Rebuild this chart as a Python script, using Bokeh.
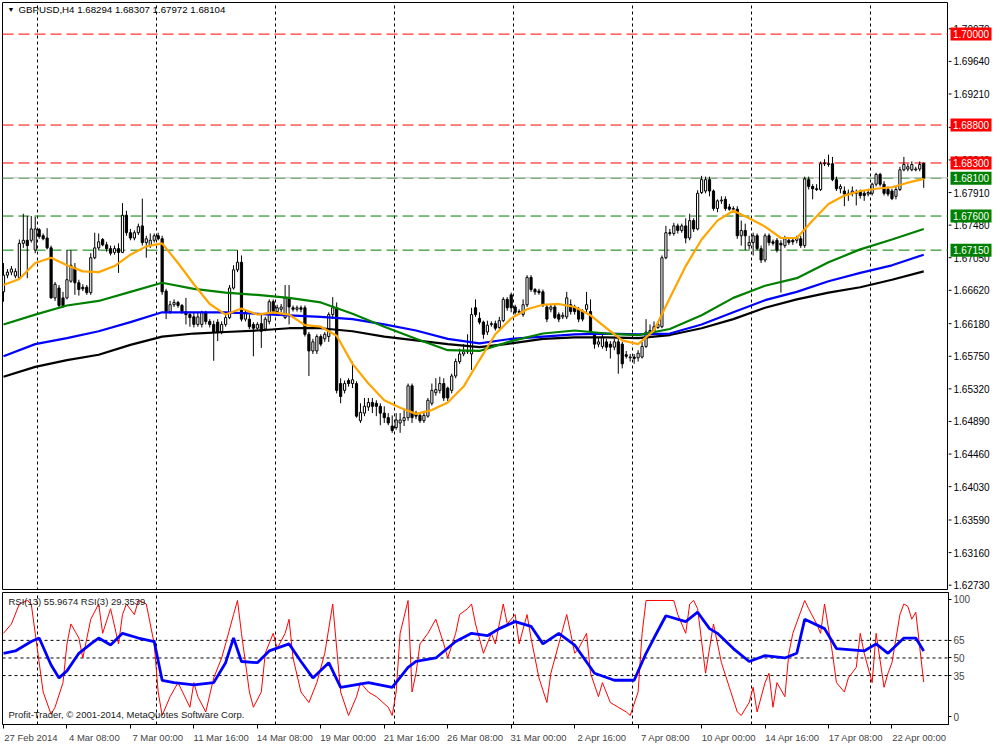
from bokeh.plotting import figure
from bokeh.layouts import column, row
from bokeh.models import FixedTicker, Span, Label, Range1d, ColumnDataSource
from bokeh.core.properties import value
from bokeh.embed import file_html
from bokeh.resources import INLINE

FONT = "Liberation Sans"

title_text = "GBPUSD,H4  1.68294 1.68307 1.67972 1.68104"
rsi_text = "RSI(13) 55.9674  RSI(3) 29.3539"
copyright_text = "Profit-Trader, \u00a9 2001-2014, MetaQuotes Software Corp."

time_labels = ["27 Feb 2014", "4 Mar 08:00", "7 Mar 00:00", "11 Mar 16:00", "14 Mar 08:00",
               "19 Mar 00:00", "21 Mar 16:00", "26 Mar 08:00", "31 Mar 00:00", "2 Apr 16:00",
               "7 Apr 08:00", "10 Apr 00:00", "14 Apr 16:00", "17 Apr 08:00", "22 Apr 00:00"]
time_label_bars = [0, 16, 32, 48, 64, 80, 96, 112, 128, 144, 160, 176, 192, 208, 224]
day_grid_bars = [8.5, 38.5, 68.5, 98.5, 128.5, 158.5, 188.5, 218.5]

opens = [1.6660,1.6682,1.6686,1.6681,1.6679,1.6724,1.6728,1.6728,1.6715,1.6742,
 1.6734,1.6731,1.6718,1.6652,1.6665,1.6652,1.6652,1.6674,1.6692,1.6672,
 1.6666,1.6666,1.6659,1.6705,1.6718,1.6729,1.6722,1.6717,1.6712,1.6717,
 1.6712,1.6761,1.6738,1.6731,1.6738,1.6747,1.6725,1.6721,1.6728,1.6734,
 1.6730,1.6661,1.6634,1.6643,1.6646,1.6642,1.6634,1.6630,1.6627,1.6617,
 1.6617,1.6633,1.6621,1.6617,1.6620,1.6607,1.6617,1.6626,1.6665,1.6689,
 1.6699,1.6624,1.6624,1.6617,1.6612,1.6618,1.6611,1.6621,1.6647,1.6634,
 1.6637,1.6626,1.6652,1.6639,1.6637,1.6639,1.6639,1.6604,1.6582,1.6582,
 1.6601,1.6598,1.6601,1.6630,1.6639,1.6539,1.6530,1.6543,1.6539,1.6539,
 1.6490,1.6500,1.6508,1.6514,1.6513,1.6509,1.6500,1.6494,1.6483,1.6481,
 1.6487,1.6490,1.6494,1.6536,1.6500,1.6497,1.6490,1.6496,1.6513,1.6527,
 1.6530,1.6539,1.6533,1.6530,1.6549,1.6568,1.6578,1.6581,1.6578,1.6639,
 1.6625,1.6620,1.6607,1.6617,1.6618,1.6613,1.6622,1.6650,1.6656,1.6640,
 1.6634,1.6630,1.6643,1.6679,1.6663,1.6661,1.6660,1.6640,1.6637,1.6640,
 1.6630,1.6627,1.6627,1.6643,1.6640,1.6637,1.6634,1.6637,1.6634,1.6604,
 1.6591,1.6588,1.6594,1.6591,1.6587,1.6594,1.6591,1.6577,1.6573,1.6574,
 1.6573,1.6574,1.6588,1.6607,1.6608,1.6613,1.6614,1.6705,1.6738,1.6737,
 1.6747,1.6741,1.6747,1.6731,1.6754,1.6743,1.6791,1.6793,1.6808,1.6793,
 1.6770,1.6780,1.6782,1.6772,1.6769,1.6769,1.6734,1.6741,1.6721,1.6725,
 1.6734,1.6717,1.6702,1.6734,1.6726,1.6728,1.6724,1.6721,1.6728,1.6728,
 1.6728,1.6730,1.6721,1.6808,1.6799,1.6796,1.6795,1.6829,1.6828,1.6829,
 1.6808,1.6796,1.6793,1.6789,1.6790,1.6790,1.6793,1.6790,1.6789,1.6790,
 1.6802,1.6815,1.6802,1.6795,1.6793,1.6786,1.6795,1.6821,1.6822,1.6821,
 1.6821,1.6822,1.68294]
highs = [1.6698,1.6690,1.6694,1.6691,1.6729,1.6763,1.6760,1.6760,1.6759,1.6744,
 1.6737,1.6744,1.6721,1.6673,1.6669,1.6660,1.6715,1.6715,1.6698,1.6676,
 1.6670,1.6669,1.6711,1.6738,1.6737,1.6731,1.6726,1.6721,1.6721,1.6724,
 1.6777,1.6767,1.6743,1.6741,1.6750,1.6783,1.6734,1.6737,1.6737,1.6738,
 1.6734,1.6664,1.6648,1.6650,1.6648,1.6644,1.6652,1.6634,1.6633,1.6633,
 1.6635,1.6635,1.6624,1.6622,1.6624,1.6621,1.6630,1.6669,1.6695,1.6715,
 1.6708,1.6637,1.6630,1.6620,1.6620,1.6630,1.6627,1.6650,1.6650,1.6643,
 1.6644,1.6669,1.6669,1.6642,1.6642,1.6642,1.6642,1.6607,1.6598,1.6604,
 1.6604,1.6607,1.6633,1.6653,1.6646,1.6546,1.6543,1.6546,1.6568,1.6542,
 1.6513,1.6520,1.6520,1.6520,1.6517,1.6513,1.6509,1.6500,1.6497,1.6500,
 1.6500,1.6504,1.6539,1.6539,1.6503,1.6500,1.6503,1.6520,1.6539,1.6546,
 1.6548,1.6546,1.6535,1.6552,1.6572,1.6585,1.6591,1.6604,1.6639,1.6650,
 1.6633,1.6622,1.6622,1.6621,1.6622,1.6627,1.6653,1.6653,1.6659,1.6643,
 1.6637,1.6650,1.6682,1.6682,1.6665,1.6664,1.6663,1.6643,1.6643,1.6643,
 1.6633,1.6633,1.6660,1.6650,1.6643,1.6640,1.6637,1.6660,1.6650,1.6607,
 1.6600,1.6604,1.6598,1.6595,1.6598,1.6598,1.6594,1.6582,1.6578,1.6578,
 1.6583,1.6594,1.6624,1.6617,1.6621,1.6621,1.6708,1.6747,1.6743,1.6751,
 1.6750,1.6750,1.6757,1.6763,1.6757,1.6794,1.6813,1.6812,1.6812,1.6795,
 1.6782,1.6786,1.6786,1.6776,1.6773,1.6773,1.6754,1.6750,1.6734,1.6738,
 1.6737,1.6721,1.6737,1.6737,1.6729,1.6731,1.6728,1.6734,1.6730,1.6731,
 1.6734,1.6734,1.6812,1.6812,1.6802,1.6802,1.6832,1.6835,1.6841,1.6838,
 1.6812,1.6802,1.6799,1.6795,1.6799,1.6795,1.6795,1.6794,1.6796,1.6804,
 1.6817,1.6817,1.6806,1.6799,1.6796,1.6799,1.6825,1.6838,1.6829,1.6832,
 1.6825,1.6832,1.68307]
lows = [1.6647,1.6678,1.6682,1.6678,1.6677,1.6718,1.6678,1.6725,1.6711,1.6730,
 1.6728,1.6716,1.6651,1.6648,1.6640,1.6639,1.6650,1.6672,1.6656,1.6655,
 1.6661,1.6656,1.6656,1.6703,1.6715,1.6720,1.6713,1.6708,1.6709,1.6685,
 1.6711,1.6734,1.6728,1.6728,1.6735,1.6721,1.6705,1.6718,1.6725,1.6728,
 1.6656,1.6624,1.6631,1.6640,1.6639,1.6631,1.6617,1.6614,1.6613,1.6614,
 1.6613,1.6617,1.6613,1.6569,1.6595,1.6604,1.6614,1.6624,1.6663,1.6686,
 1.6621,1.6621,1.6611,1.6575,1.6609,1.6586,1.6608,1.6617,1.6630,1.6631,
 1.6633,1.6624,1.6617,1.6634,1.6634,1.6633,1.6601,1.6549,1.6578,1.6578,
 1.6588,1.6594,1.6594,1.6624,1.6526,1.6513,1.6526,1.6535,1.6533,1.6494,
 1.6487,1.6496,1.6503,1.6500,1.6496,1.6484,1.6487,1.6484,1.6474,1.6478,
 1.6474,1.6483,1.6490,1.6487,1.6492,1.6487,1.6487,1.6494,1.6510,1.6523,
 1.6526,1.6516,1.6516,1.6526,1.6546,1.6565,1.6575,1.6578,1.6557,1.6627,
 1.6617,1.6598,1.6603,1.6614,1.6609,1.6611,1.6620,1.6635,1.6633,1.6630,
 1.6630,1.6627,1.6640,1.6660,1.6656,1.6656,1.6640,1.6620,1.6633,1.6624,
 1.6620,1.6624,1.6624,1.6630,1.6630,1.6620,1.6621,1.6633,1.6604,1.6585,
 1.6587,1.6585,1.6582,1.6572,1.6583,1.6552,1.6559,1.6572,1.6568,1.6565,
 1.6568,1.6572,1.6586,1.6604,1.6604,1.6611,1.6612,1.6703,1.6734,1.6734,
 1.6737,1.6738,1.6724,1.6728,1.6739,1.6741,1.6789,1.6790,1.6786,1.6767,
 1.6765,1.6776,1.6767,1.6767,1.6765,1.6730,1.6721,1.6715,1.6716,1.6708,
 1.6715,1.6698,1.6699,1.6721,1.6721,1.6712,1.6659,1.6718,1.6722,1.6722,
 1.6724,1.6718,1.6718,1.6795,1.6782,1.6793,1.6793,1.6826,1.6825,1.6806,
 1.6793,1.6790,1.6773,1.6780,1.6786,1.6774,1.6783,1.6780,1.6786,1.6787,
 1.6799,1.6799,1.6787,1.6786,1.6781,1.6782,1.6793,1.6819,1.6819,1.6819,
 1.6819,1.6819,1.67972]
closes = [1.6682,1.6686,1.6690,1.6687,1.6724,1.6728,1.6721,1.6743,1.6743,1.6733,
 1.6730,1.6718,1.6652,1.6670,1.6642,1.6642,1.6676,1.6695,1.6672,1.6663,
 1.6664,1.6659,1.6705,1.6718,1.6726,1.6722,1.6717,1.6711,1.6717,1.6712,
 1.6761,1.6738,1.6731,1.6738,1.6746,1.6725,1.6730,1.6728,1.6734,1.6730,
 1.6660,1.6634,1.6643,1.6646,1.6642,1.6634,1.6630,1.6626,1.6617,1.6627,
 1.6633,1.6621,1.6617,1.6607,1.6607,1.6617,1.6626,1.6665,1.6689,1.6699,
 1.6624,1.6633,1.6614,1.6612,1.6617,1.6608,1.6624,1.6647,1.6634,1.6639,
 1.6640,1.6652,1.6640,1.6637,1.6639,1.6637,1.6604,1.6582,1.6594,1.6601,
 1.6591,1.6604,1.6630,1.6639,1.6530,1.6522,1.6539,1.6539,1.6544,1.6496,
 1.6501,1.6509,1.6514,1.6509,1.6509,1.6500,1.6494,1.6487,1.6477,1.6491,
 1.6491,1.6494,1.6536,1.6494,1.6496,1.6490,1.6497,1.6517,1.6530,1.6531,
 1.6539,1.6520,1.6520,1.6549,1.6568,1.6578,1.6581,1.6582,1.6630,1.6630,
 1.6620,1.6604,1.6616,1.6618,1.6612,1.6622,1.6650,1.6639,1.6639,1.6633,
 1.6633,1.6643,1.6679,1.6663,1.6660,1.6659,1.6643,1.6624,1.6640,1.6626,
 1.6624,1.6629,1.6652,1.6634,1.6634,1.6624,1.6624,1.6643,1.6608,1.6591,
 1.6594,1.6600,1.6587,1.6587,1.6594,1.6578,1.6565,1.6575,1.6574,1.6572,
 1.6579,1.6588,1.6607,1.6609,1.6614,1.6617,1.6705,1.6738,1.6737,1.6747,
 1.6741,1.6747,1.6731,1.6754,1.6743,1.6790,1.6808,1.6808,1.6793,1.6770,
 1.6780,1.6781,1.6770,1.6769,1.6770,1.6734,1.6741,1.6734,1.6725,1.6734,
 1.6717,1.6702,1.6734,1.6725,1.6724,1.6715,1.6722,1.6730,1.6725,1.6726,
 1.6731,1.6721,1.6809,1.6799,1.6796,1.6795,1.6829,1.6830,1.6829,1.6808,
 1.6796,1.6799,1.6789,1.6790,1.6793,1.6791,1.6787,1.6787,1.6791,1.6802,
 1.6815,1.6802,1.6790,1.6789,1.6783,1.6795,1.6821,1.6828,1.6825,1.6828,
 1.6822,1.6828,1.68104]

ma_fast = [1.6669,1.6677,1.6698,1.6705,1.6695,1.6687,1.6686,1.6694,1.6709,1.6720,
 1.6724,1.6698,1.6670,1.6644,1.6630,1.6638,1.6630,1.6633,1.6630,1.6616,
 1.6614,1.6602,1.6565,1.6539,1.6517,1.6507,1.6499,1.6504,1.6514,1.6535,
 1.6570,1.6604,1.6625,1.6637,1.6643,1.6644,1.6640,1.6629,1.6612,1.6596,
 1.6591,1.6609,1.6652,1.6694,1.6729,1.6754,1.6767,1.6757,1.6746,1.6731,
 1.6731,1.6754,1.6776,1.6787,1.6793,1.6796,1.6798,1.6804,1.6809]
ma_green = [1.6617,1.6630,1.6642,1.6648,1.6660,1.6672,1.6664,1.6659,1.6656,1.6652,
 1.6646,1.6631,1.6614,1.6598,1.6583,1.6582,1.6595,1.6605,1.6609,1.6605,
 1.6603,1.6611,1.6629,1.6652,1.6668,1.6678,1.6699,1.6716,1.6729,1.6743]
ma_blue = [1.6575,1.6591,1.6599,1.6608,1.6620,1.6633,1.6633,1.6633,1.6631,1.6629,
 1.6627,1.6624,1.6617,1.6609,1.6598,1.6592,1.6598,1.6601,1.6604,1.6605,
 1.6604,1.6605,1.6617,1.6633,1.6649,1.6660,1.6674,1.6685,1.6695,1.6709]
ma_black = [1.6548,1.6561,1.6570,1.6577,1.6590,1.6601,1.6605,1.6607,1.6609,1.6612,
 1.6612,1.6608,1.6601,1.6596,1.6591,1.6587,1.6592,1.6598,1.6600,1.6600,
 1.6599,1.6603,1.6612,1.6624,1.6639,1.6650,1.6659,1.6666,1.6676,1.6687]
ma_fast_bars = list(range(0, 233, 4))
ma_slow_bars = list(range(0, 233, 8))

rsi13_bars = [0,3,7,9,12,14,16,19,22,24,27,30,34,38,40,43,48,53,56,58,
 60,64,67,72,75,78,82,85,92,98,102,104,109,114,118,122,125,129,133,136,
 140,144,149,154,159,162,164,167,172,175,178,180,184,188,192,197,200,202,207,210,
 217,220,223,227,230,232]
rsi13 = [54,56,64,67,44,33,39,54,62,67,61,71,67,64,31,29,27,29,46,67,
 47,46,56,62,47,33,46,25,29,25,42,47,50,64,71,69,75,81,77,62,
 71,61,37,31,31,54,67,86,81,89,75,71,58,47,52,50,54,83,75,58,
 56,62,54,67,67,55.9674]
rsi3_bars = [0,2,4,6,7,8,10,12,13,15,16,17,19,20,22,24,25,27,29,30,
 31,33,34,36,38,39,40,42,44,47,48,49,51,53,55,56,58,59,60,62,
 63,65,66,68,69,71,72,73,75,77,79,81,83,85,87,89,90,92,94,97,
 98,99,100,102,103,104,105,107,109,111,112,114,115,117,118,119,121,123,124,126,
 127,129,130,132,133,135,137,138,140,142,143,144,145,147,148,150,151,153,155,157,
 158,160,161,162,164,167,169,170,172,173,174,175,177,179,181,183,185,186,188,189,
 190,192,193,194,195,197,198,199,202,203,205,206,207,209,210,212,213,215,216,217,
 219,220,222,223,224,226,227,228,229,230,232]
rsi3 = [71,79,96,99,96,71,21,2,8,29,62,79,67,50,83,96,71,92,62,87,
 96,87,99,96,62,21,1,17,29,8,29,17,4,33,50,62,87,99,71,21,
 8,21,54,71,58,71,83,50,21,12,29,54,96,21,1,17,29,21,17,8,
 1,21,71,99,21,37,62,71,83,62,50,71,87,92,96,79,54,71,62,96,
 79,87,62,87,67,33,12,37,62,87,71,54,58,71,37,17,29,12,8,4,
 1,21,71,99,99,99,99,87,71,96,99,92,37,79,46,25,4,1,12,25,
 4,29,37,8,29,17,54,71,99,92,79,71,96,54,29,21,33,42,71,54,
 29,71,25,37,46,87,96,94,83,89,29.3539]

red_levels = [1.70000, 1.68800, 1.68300]
green_levels = [1.68100, 1.67600, 1.67150]
bid_price = 1.68104
price_ticks = [1.62730, 1.63160, 1.63590, 1.64030, 1.64460, 1.64890, 1.65320, 1.65750, 1.66180,
               1.66620, 1.67050, 1.67480, 1.67910, 1.68340, 1.68770, 1.69210, 1.69640, 1.70070]
rsi_levels = [35, 50, 65]
rsi_ticks = [0, 35, 50, 65, 100]

FRAME_W = 946
MAIN_H = 588
RSI_H = 132
RIGHT = 44
LABEL_SHIFT = 6.9   # time labels start at their tick: centre them this many bars to the right

xr = Range1d(-0.25, 238.25)
yr = Range1d(1.6266, 1.70417)


def base_style(p):
    p.outline_line_color = "black"
    p.outline_line_width = 1
    p.background_fill_color = "white"
    p.border_fill_color = "white"
    p.ygrid.visible = False
    p.xgrid.ticker = FixedTicker(ticks=day_grid_bars)
    p.xgrid.grid_line_color = "black"
    p.xgrid.grid_line_dash = "3 3"
    p.xgrid.grid_line_width = 1


# ---------------- main price panel ----------------
p = figure(frame_width=FRAME_W, frame_height=MAIN_H, x_range=xr, y_range=yr,
           y_axis_location=None, x_axis_location=None, output_backend="svg",
           toolbar_location=None, min_border_left=2, min_border_right=0,
           min_border_top=2, min_border_bottom=0)
base_style(p)

for lvl in red_levels:
    p.add_layout(Span(location=lvl, dimension="width", line_color="#FF0000", line_dash="11 5",
                      line_width=1, level="underlay"))
for lvl in green_levels:
    p.add_layout(Span(location=lvl, dimension="width", line_color="#008000", line_dash="11 5",
                      line_width=1, level="underlay"))
p.add_layout(Span(location=bid_price, dimension="width", line_color="#C0C0C0", line_width=1,
                  level="underlay"))

bars = list(range(len(closes)))
src = ColumnDataSource(dict(
    x=bars, o=opens, h=highs, l=lows, c=closes,
    top=[max(a, b) for a, b in zip(opens, closes)],
    bottom=[min(a, b) for a, b in zip(opens, closes)],
    fill=["white" if c >= o else "black" for o, c in zip(opens, closes)],
))
p.segment(x0="x", y0="l", x1="x", y1="h", source=src, line_color="black", line_width=1)
p.vbar(x="x", width=0.55, top="top", bottom="bottom", source=src, fill_color="fill",
       line_color="black", line_width=1)

p.line(ma_slow_bars, ma_black, line_color="black", line_width=2.2)
p.line(ma_slow_bars, ma_blue, line_color="#0000FF", line_width=2.2)
p.line(ma_slow_bars, ma_green, line_color="#008000", line_width=2.2)
p.line(ma_fast_bars, ma_fast, line_color="#FFA500", line_width=2.2)

p.add_layout(Label(x=5, y=MAIN_H - 7, x_units="screen", y_units="screen", text="\u25bc",
                   text_font=FONT, text_font_size="7px", text_baseline="middle", text_color="black"))
p.add_layout(Label(x=16, y=MAIN_H - 7, x_units="screen", y_units="screen", text=title_text,
                   text_font=FONT, text_font_size="9.7px", text_baseline="middle", text_color="black"))

# ---------------- price scale strip (right of the main panel) ----------------
s = figure(frame_width=RIGHT, frame_height=MAIN_H, x_range=Range1d(0, RIGHT), y_range=yr,
           y_axis_location=None, x_axis_location=None, output_backend="svg",
           toolbar_location=None, min_border_left=0, min_border_right=0,
           min_border_top=2, min_border_bottom=0)
s.outline_line_color = None
s.background_fill_color = "white"
s.border_fill_color = "white"
s.xgrid.visible = False
s.ygrid.visible = False
s.segment(x0=0, y0=price_ticks, x1=3, y1=price_ticks, line_color="black", line_width=1)
s.text(x=5, y=price_ticks, text=["%.5f" % t for t in price_ticks], text_baseline="middle",
       text_align="left", text_font=value(FONT), text_font_size="10px", text_color="black")
lvl_vals = red_levels + green_levels
lvl_cols = ["#FF0000"] * len(red_levels) + ["#008000"] * len(green_levels)
s.rect(x=22.5, y=lvl_vals, width=41, height=13, height_units="screen", fill_color=lvl_cols,
       line_color=None)
s.text(x=22.5, y=lvl_vals, text=["%.5f" % v for v in lvl_vals], text_baseline="middle",
       text_align="center", text_font=value(FONT), text_font_size="10px", text_color="white")

# ---------------- RSI panel ----------------
r = figure(frame_width=FRAME_W, frame_height=RSI_H, x_range=xr, y_range=Range1d(-6.7, 105.8),
           y_axis_location="right", output_backend="svg", toolbar_location=None,
           min_border_left=2, min_border_right=RIGHT, min_border_top=2, min_border_bottom=18)
base_style(r)
ya = r.yaxis[0]
ya.ticker = FixedTicker(ticks=rsi_ticks)
ya.axis_line_color = "black"
ya.major_tick_out = 3
ya.major_tick_in = 0
ya.minor_tick_out = 0
ya.minor_tick_in = 0
ya.major_label_text_font = FONT
ya.major_label_text_font_size = "10px"
ya.major_label_standoff = 2

label_centres = [b + LABEL_SHIFT for b in time_label_bars]
xa = r.xaxis[0]
xa.ticker = FixedTicker(ticks=label_centres, minor_ticks=time_label_bars)
xa.major_label_overrides = {c: t for c, t in zip(label_centres, time_labels)}
xa.axis_line_color = "black"
xa.major_tick_out = 0
xa.major_tick_in = 0
xa.minor_tick_out = 4
xa.minor_tick_in = 0
xa.minor_tick_line_color = "black"
xa.major_label_text_font = FONT
xa.major_label_text_font_size = "9.5px"
xa.major_label_standoff = 3

for lvl in rsi_levels:
    r.add_layout(Span(location=lvl, dimension="width", line_color="black", line_dash="3 3",
                      line_width=1, level="underlay"))

r.line(rsi3_bars, rsi3, line_color="#FF0000", line_width=1)
r.line(rsi13_bars, rsi13, line_color="#0000FF", line_width=2.8)

r.add_layout(Label(x=6, y=RSI_H - 9, x_units="screen", y_units="screen", text=rsi_text,
                   text_font=FONT, text_font_size="9.5px", text_baseline="middle", text_color="#202020"))
r.add_layout(Label(x=6, y=10, x_units="screen", y_units="screen", text=copyright_text,
                   text_font=FONT, text_font_size="9.5px", text_baseline="middle", text_color="#202020"))

layout = column(row(p, s, spacing=0), r, spacing=0)
open("out.html", "w").write(file_html(layout, INLINE))
